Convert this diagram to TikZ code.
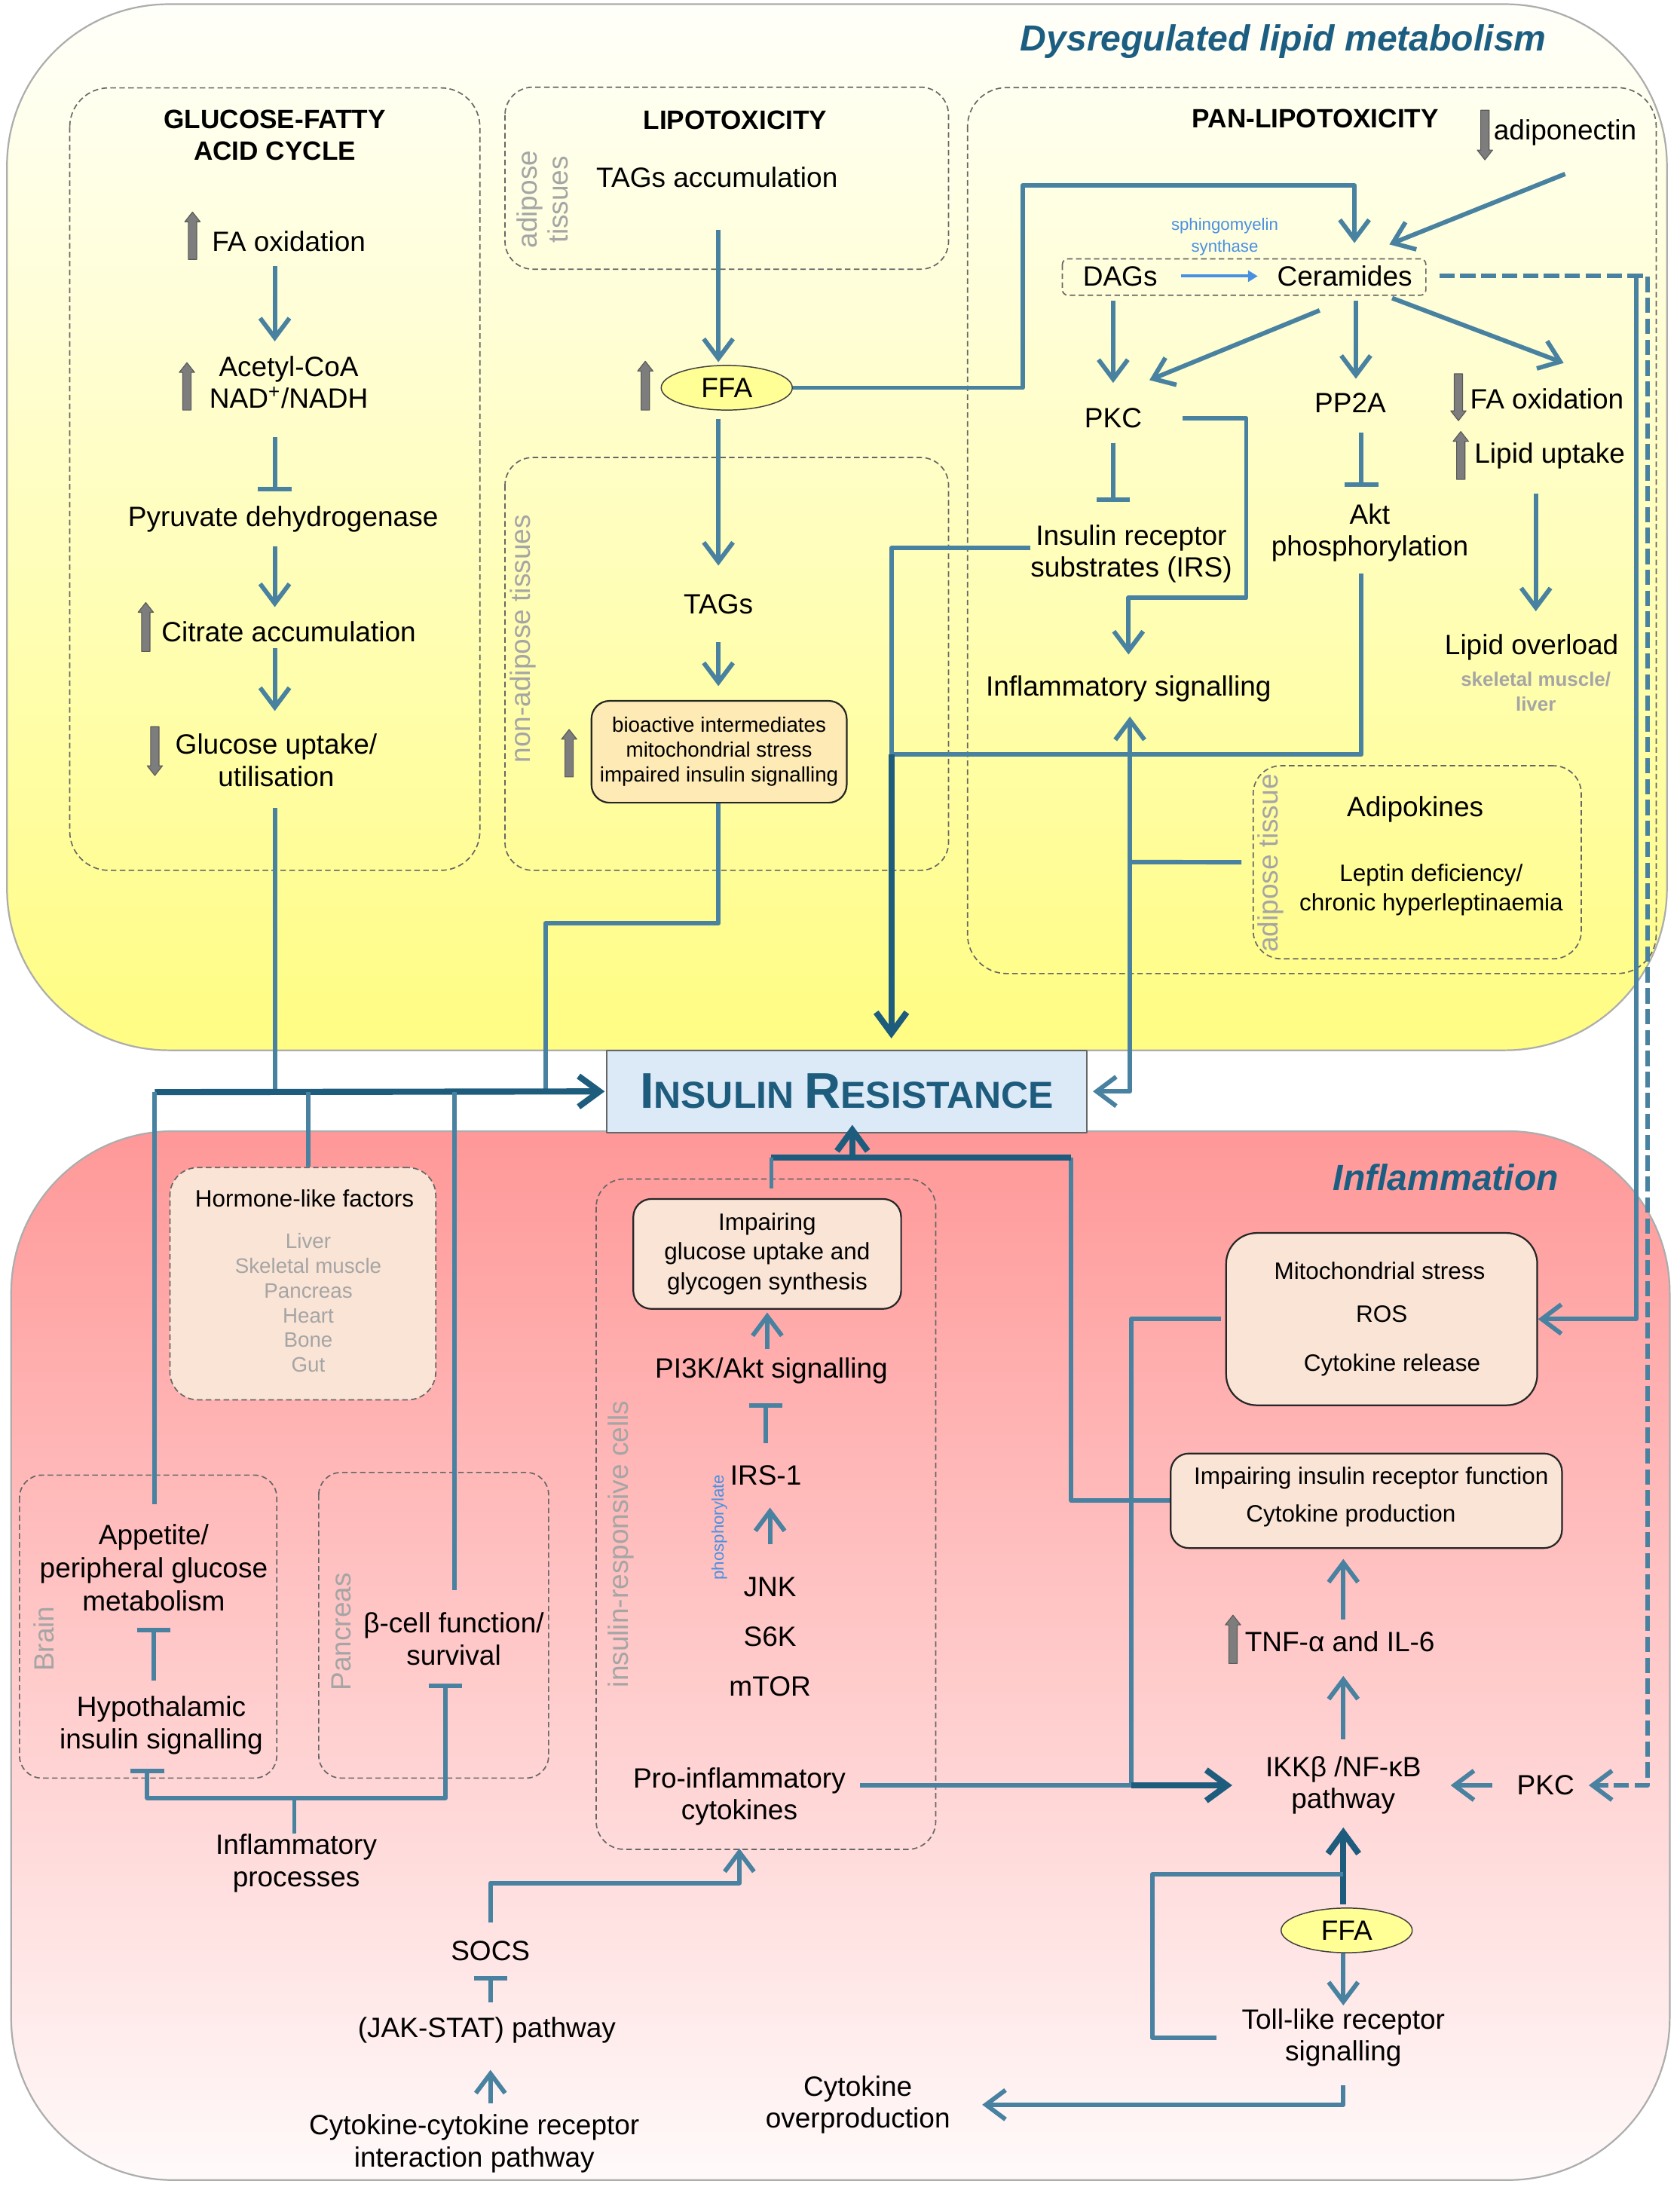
\documentclass[tikz,border=0pt]{standalone}
\usepackage{fontspec}
\setmainfont{Liberation Sans}
\usetikzlibrary{arrows.meta,shapes.geometric,positioning}
\definecolor{conn}{RGB}{72,130,160}
\definecolor{connd}{RGB}{30,92,126}
\definecolor{ttlblue}{RGB}{28,94,130}
\definecolor{peach}{RGB}{250,228,214}
\definecolor{bioact}{RGB}{253,234,180}
\definecolor{ffafill}{RGB}{255,255,150}
\definecolor{irfill}{RGB}{220,233,246}
\definecolor{sphblue}{RGB}{74,144,226}
\definecolor{sidegray}{RGB}{165,165,165}
\definecolor{blockgray}{RGB}{125,125,125}
\definecolor{ytop}{RGB}{255,255,250}
\definecolor{ymid}{RGB}{254,252,218}
\definecolor{ybot}{RGB}{255,253,130}
\definecolor{ptop}{RGB}{255,152,152}
\definecolor{pmid}{RGB}{254,212,212}
\definecolor{pbot}{RGB}{255,250,250}
% grey block arrows: x, y of tip/top, y of bottom
\newcommand{\grayup}[3]{\filldraw[fill=blockgray,draw=black!65,line width=0.3pt] (#1-3,#3) -- (#1-3,#2+7) -- (#1-5.5,#2+7) -- (#1,#2) -- (#1+5.5,#2+7) -- (#1+3,#2+7) -- (#1+3,#3) -- cycle;}
\newcommand{\graydown}[3]{\filldraw[fill=blockgray,draw=black!65,line width=0.3pt] (#1-3,#2) -- (#1-3,#3-7) -- (#1-5.5,#3-7) -- (#1,#3) -- (#1+5.5,#3-7) -- (#1+3,#3-7) -- (#1+3,#2) -- cycle;}
\begin{document}
\begin{tikzpicture}[x=0.5pt,y=-0.5pt,line join=round,
  lbl/.style={font=\fontsize{10}{11.5}\selectfont,align=center,inner sep=0pt},
  ttl/.style={font=\bfseries\fontsize{9.5}{11.5}\selectfont,align=center,inner sep=0pt},
  sml/.style={font=\fontsize{8.5}{10.5}\selectfont,align=center,inner sep=0pt},
  tny/.style={font=\fontsize{7.5}{8.9}\selectfont,align=center,inner sep=0pt},
  sidelbl/.style={font=\fontsize{10}{11}\selectfont,text=sidegray,rotate=90,align=center,inner sep=0pt},
  headline/.style={font=\bfseries\itshape\fontsize{13}{15}\selectfont,text=ttlblue,inner sep=0pt},
  region/.style={draw=black!32,line width=0.6pt,rounded corners=58pt},
  dbox/.style={draw=black!60,dash pattern=on 2pt off 1.2pt,line width=0.45pt,rounded corners=10pt},
  sbox/.style={draw=black!85,line width=0.6pt,rounded corners=6.5pt,fill=peach},
  ffa/.style={ellipse,draw=black!75,line width=0.4pt,fill=ffafill,minimum width=47pt,minimum height=16pt,inner sep=0pt,font=\fontsize{10}{11.5}\selectfont},
  ln/.style={draw=conn,line width=1.6pt},
  arr/.style={ln,shorten <=5pt,shorten >=5pt,-{Straight Barb[length=7pt,width=10.5pt]}},
  inh/.style={ln,shorten <=5pt,shorten >=5pt,-{Bar[width=12pt]}},
  thk/.style={draw=connd,line width=2.2pt},
  dkarr/.style={thk,-{Straight Barb[length=7.5pt,width=11pt]}},
  dsh/.style={ln,dash pattern=on 5.5pt off 2pt,-{Straight Barb[length=7pt,width=10.5pt]}}]
\useasboundingbox (0,0) rectangle (1204,1568);
\fill[white] (0,0) rectangle (1204,1568);

% the two regions
\shade[top color=ytop,middle color=ymid,bottom color=ybot,rounded corners=58pt] (5,3) rectangle (1195,753);
\draw[region] (5,3) rectangle (1195,753);
\shade[top color=ptop,middle color=pmid,bottom color=pbot,rounded corners=58pt] (8,811) rectangle (1197,1563);
\draw[region] (8,811) rectangle (1197,1563);

% dashed frames
\draw[dbox,rounded corners=14pt] (50,63) rectangle (344,624);
\draw[dbox] (362,62.5) rectangle (680,193);
\draw[dbox] (362,328) rectangle (680,624);
\draw[dbox,rounded corners=14pt] (693.6,62.8) rectangle (1187.3,698);
\draw[draw=black!60,dash pattern=on 2pt off 1.2pt,line width=0.45pt,rounded corners=2pt] (761.6,185.6) rectangle (1022.2,211.7);
\draw[dbox] (427.4,845.3) rectangle (670.8,1325.9);
\draw[dbox,rounded corners=8pt] (14,1057.6) rectangle (198.4,1274.8);
\draw[dbox,rounded corners=8pt] (228.5,1055.7) rectangle (393.3,1274.8);

% top part
\node[headline] (dlm) at (920,30) {Dysregulated lipid metabolism};
\node[ttl] (gfa) at (197,97) {GLUCOSE-FATTY\\ACID CYCLE};
\node[lbl] (faox) at (207,173) {FA oxidation};
\node[lbl] (acoa) at (207,274) {Acetyl-CoA\\NAD\textsuperscript{+}/NADH};
\node[lbl] (pdh) at (203,372) {Pyruvate dehydrogenase};
\node[lbl] (citr) at (207,453) {Citrate accumulation};
\node[lbl] (gluc) at (198,545) {Glucose uptake/\\utilisation};

\node[ttl] (lipo) at (527,86) {LIPOTOXICITY};
\node[sidelbl] (adiptis) at (389,143) {adipose\\tissues};
\node[lbl] (tagacc) at (514,127) {TAGs accumulation};
\node[ffa] (ffa1) at (521,278) {FFA};
\node[sidelbl] (nonadip) at (375,458) {non-adipose tissues};
\node[lbl] (tags) at (515,433) {TAGs};
\node[sbox,fill=bioact,tny,minimum width=91.5pt,minimum height=36.5pt] (bio) at (515.5,539) {bioactive intermediates\\mitochondrial stress\\impaired insulin signalling};

\node[ttl] (panlipo) at (943,85) {PAN-LIPOTOXICITY};
\node[lbl] (adipo) at (1122,95) {adiponectin};
\node[font=\fontsize{6}{7.8}\selectfont,text=sphblue,align=center,inner sep=0pt] (sms) at (878,170) {sphingomyelin\\synthase};
\node[lbl] (dags) at (803,198) {DAGs};
\node[lbl] (cer) at (964,198) {Ceramides};
\node[lbl] (pkc) at (798,300) {PKC};
\node[lbl] (pp2a) at (968,289) {PP2A};
\node[lbl] (faox2) at (1109,286) {FA oxidation};
\node[lbl] (lipup) at (1111,327) {Lipid uptake};
\node[lbl] (lipov) at (1098,464) {Lipid overload};
\node[font=\bfseries\fontsize{7}{9}\selectfont,text=sidegray,align=center,inner sep=0pt] (skel) at (1101,496) {skeletal muscle/\\liver};
\node[lbl] (irs) at (811,397) {Insulin receptor\\substrates (IRS)};
\node[lbl] (akt) at (982,382) {Akt\\phosphorylation};
\node[lbl] (infl) at (809,494) {Inflammatory signalling};
\node[dbox,minimum width=117.6pt,minimum height=69.2pt,inner sep=0pt] (adbox) at (1016,618.2) {};
\node[sidelbl] (adtis) at (911,619) {adipose tissue};
\node[lbl] (adipok) at (1014.5,580) {Adipokines};
\node[sml,font=\fontsize{8.5}{10.3}\selectfont] (leptin) at (1026,638) {Leptin deficiency/\\chronic hyperleptinaemia};

\node[draw=black!60,line width=0.5pt,fill=irfill,minimum width=172pt,minimum height=29.5pt,inner sep=0pt,text=connd,font=\bfseries\fontsize{13.5}{15}\selectfont] (ir) at (607,782.5) {{\fontsize{18}{18}\selectfont I}NSULIN {\fontsize{18}{18}\selectfont R}ESISTANCE};

% bottom part
\node[headline] (infltitle) at (1036.5,844) {Inflammation};
\node[sbox,rounded corners=11pt,minimum width=111.5pt,minimum height=61.75pt,inner sep=0pt] (mito) at (990.5,945.75) {};
\node[sml] (mitos) at (989,911) {Mitochondrial stress};
\node[sml] (ros) at (990.5,942) {ROS};
\node[sml] (cytrel) at (998,978.5) {Cytokine release};
\node[sbox,minimum width=140.25pt,minimum height=33.9pt,inner sep=0pt] (iirf) at (979.5,1076) {};
\node[sml] (iirft) at (983,1060) {Impairing insulin receptor function};
\node[sml] (cytprod) at (968.5,1087) {Cytokine production};
\node[lbl] (tnf) at (960.5,1177) {TNF-α and IL-6};
\node[lbl] (ikk) at (963,1280) {IKKβ /NF-κB\\pathway};
\node[lbl] (pkc2) at (1108,1280) {PKC};
\node[ffa] (ffa2) at (965.4,1384) {FFA};
\node[lbl] (toll) at (963,1461) {Toll-like receptor\\signalling};
\node[lbl] (cytover) at (615,1509) {Cytokine\\overproduction};

\node[sbox,sml,minimum width=96pt,minimum height=39.4pt,font=\fontsize{8.5}{10.65}\selectfont] (igu) at (550,899) {Impairing\\glucose uptake and\\glycogen synthesis};
\node[lbl] (pi3k) at (553,983) {PI3K/Akt signalling};
\node[lbl] (irs1) at (549,1058) {IRS-1};
\node[font=\fontsize{6}{7}\selectfont,text=sphblue,rotate=90,inner sep=0pt] (phos) at (515.7,1095) {phosphorylate};
\node[lbl] (jnk) at (552,1138) {JNK};
\node[lbl] (s6k) at (552,1173.5) {S6K};
\node[lbl] (mtor) at (552,1209) {mTOR};
\node[lbl] (proinf) at (530,1288) {Pro-inflammatory\\cytokines};
\node[sidelbl] (irc) at (445.4,1107) {insulin-responsive cells};

\node[dbox,fill=peach,minimum width=95.3pt,minimum height=83.25pt,inner sep=0pt] (hormbox) at (217.1,920.35) {};
\node[sml] (horm) at (218.3,859) {Hormone-like factors};
\node[tny,text=sidegray] (organs) at (221,934) {Liver\\Skeletal muscle\\Pancreas\\Heart\\Bone\\Gut};
\node[sidelbl] (brain) at (31.7,1175) {Brain};
\node[sidelbl] (panc) at (244.6,1170) {Pancreas};
\node[lbl,font=\fontsize{10}{12}\selectfont] (appet) at (110.2,1124) {Appetite/\\peripheral glucose\\metabolism};
\node[lbl] (hypo) at (115.6,1237) {Hypothalamic\\insulin signalling};
\node[lbl] (beta) at (325.3,1175) {β-cell function/\\survival};
\node[lbl] (inflproc) at (212.4,1336) {Inflammatory\\processes};
\node[lbl] (socs) at (351.6,1399) {SOCS};
\node[lbl] (jak) at (349,1455.5) {(JAK-STAT) pathway};
\node[lbl] (ccr) at (340,1537) {Cytokine-cytokine receptor\\interaction pathway};

% up / down markers
\grayup{138}{152}{186}
\grayup{134}{260}{294}
\grayup{104.5}{432}{467}
\graydown{111}{521}{556}
\grayup{462.6}{259}{294}
\grayup{408}{523}{557}
\graydown{1064.5}{79}{114.6}
\graydown{1045.5}{268}{301.6}
\grayup{1047.2}{309.4}{343.7}
\grayup{883.9}{1158}{1192.7}

% glucose-fatty acid cycle
\draw[arr] (faox.south -| gfa) -- (acoa.north -| gfa);
\draw[inh,shorten <=10pt] (acoa.south -| gfa) -- (pdh.north -| gfa);
\draw[arr] (pdh.south -| gfa) -- (citr.north -| gfa);
\draw[arr,shorten <=2pt,shorten >=8pt] (citr.south -| gfa) -- (gluc.north -| gfa);

% lipotoxicity
\draw[arr,shorten <=15pt,shorten >=1pt] (tagacc.south -| tags) -- (ffa1.north -| tags);
\draw[arr,shorten <=3pt,shorten >=10pt] (ffa1.south -| tags) -- (tags.north);
\draw[arr,shorten <=10pt] (tags.south) -- (bio.north -| tags);
\coordinate (lipobend) at (391,662);
\coordinate (irleft) at (111,783);
\draw[ln] (bio.south -| tags) |- (lipobend) -- (lipobend |- irleft);
\draw[ln,shorten <=7.5pt] (gluc.south -| gfa) -- (gfa |- irleft);

% pan-lipotoxicity
\coordinate (ffabend) at (733,133);
\draw[arr,shorten <=0pt,shorten >=8pt] (ffa1.east) -| (ffabend) -| ([xshift=3.5pt]cer.north);
\draw[arr,shorten <=0pt,shorten >=0pt] ([yshift=-10pt]adipo.south) -- ([xshift=16pt,yshift=7.5pt]cer.north);
\draw[sphblue,line width=1.1pt,-{Triangle[length=3.5pt,width=4pt]},shorten <=8.3pt,shorten >=6.8pt] (dags.east) -- (cer.west);
\draw[arr,shorten >=9pt] (dags.south -| pkc) -- (pkc.north);
\draw[arr,shorten <=0pt,shorten >=0pt] ([xshift=-9pt,yshift=-8.4pt]cer.south) -- ([xshift=13pt,yshift=10pt]pkc.north);
\coordinate (cerpp) at ([xshift=4pt]cer.south);
\draw[arr] (cerpp) -- (cerpp |- pp2a.north);
\draw[arr,shorten <=0pt,shorten >=0pt] ([xshift=17pt,yshift=-4pt]cer.south) -- ([xshift=6pt,yshift=9pt]faox2.north);
\draw[inh,shorten >=8pt] (pkc.south) -- (pkc.south |- irs.north);
\coordinate (ppakt) at ([xshift=4pt]pp2a.south);
\draw[inh,shorten <=7pt,shorten >=6pt] (ppakt) -- (ppakt |- akt.north);
\draw[arr,shorten <=8.5pt,shorten >=8pt] (lipup.south -| skel) -- (lipov.north -| skel);
\coordinate (pkcbend) at (893.4,428.5);
\draw[arr,shorten <=14.5pt,shorten >=7.5pt] (pkc.east) -| (pkcbend) -| (infl.north);
\coordinate (irdrop) at (639,541);
\draw[ln] ([yshift=2pt]irs.west) -| (irdrop);
\draw[ln,shorten <=4pt] ([xshift=-3pt]akt.south) |- (irdrop);
\draw[dkarr,shorten >=4pt] (irdrop) -- (irdrop |- ir.north);
\coordinate (adpjoin) at (810,618);
\draw[ln] ([xshift=-4pt]adbox.west) -- (adpjoin);
\draw[arr,shorten <=0pt] (adpjoin) -- (adpjoin |- infl.south);
\draw[arr,shorten <=0pt,shorten >=2pt] (adpjoin) |- (ir.east);
\coordinate (dshbend) at (1181.3,1280);
\coordinate (cerdrop) at (1173,198);
\draw[dsh,shorten <=9.5pt,shorten >=5pt] (cer.east) -| (dshbend) -- (pkc2.east);
\draw[arr,shorten <=0pt,shorten >=0pt] (cerdrop) |- (mito.east);

% into insulin resistance
\draw[dkarr,shorten >=0.5pt] (irleft) -- (ir.west);
\coordinate (hormjoin) at (221,783);
\coordinate (betajoin) at (326,783);
\draw[ln] (hormjoin) -- (hormjoin |- hormbox.north);
\draw[ln,shorten >=7.8pt] (betajoin) -- (betajoin |- beta.north);
\draw[ln,shorten >=7pt] (irleft) -- (irleft |- appet.north);

% brain / pancreas
\draw[inh,shorten <=5.4pt,shorten >=5.6pt] (hypo.north -| appet) -- (appet.south);
\coordinate (ipjoin) at (211,1289);
\draw[ln] (inflproc.north -| ipjoin) -- (ipjoin);
\draw[inh,shorten <=0pt,shorten >=5pt] (ipjoin) -| ([xshift=-5pt]hypo.south);
\draw[inh,shorten <=0pt,shorten >=6.5pt] (ipjoin) -| ([xshift=-3pt]beta.south);

% JAK-STAT
\coordinate (socsbend) at (352,1350);
\draw[arr,shorten <=6.5pt,shorten >=8pt] (socs.north) |- (socsbend) -| (proinf.south);
\draw[inh] (jak.north -| socs) -- (socs.south);
\draw[arr,shorten <=4pt,shorten >=9.4pt] (ccr.north -| socs) -- (jak.south -| socs);

% insulin-responsive cells
\draw[arr,shorten <=3pt,shorten >=1pt] (pi3k.north -| igu) -- (igu.south);
\draw[inh,shorten <=7.8pt,shorten >=6.8pt] (irs1.north) -- (irs1.north |- pi3k.south);
\draw[arr,shorten <=11.7pt,shorten >=7.7pt] (jnk.north) -- (jnk.north |- irs1.south);

% IKK / NF-kB
\coordinate (mitojoin) at (811,1280);
\draw[ln,shorten <=5pt] ([yshift=4pt]proinf.east) -- (mitojoin);
\draw[ln,shorten <=1.5pt] (mito.west) -| (mitojoin);
\draw[dkarr,shorten >=11.75pt] (mitojoin) -- (ikk.west);
\draw[arr,shorten <=4pt,shorten >=3.6pt] (tnf.north -| ikk) -- (iirf.south -| ikk);
\draw[arr,shorten <=5.9pt,shorten >=8.4pt] (ikk.north) -- (tnf.south -| ikk);
\draw[arr,shorten <=8.6pt,shorten >=10.4pt] (pkc2.west) -- (ikk.east);
\draw[dkarr,shorten <=1.2pt,shorten >=4.5pt] (ffa2.north -| ikk) -- (ikk.south);
\draw[arr,shorten <=0pt,shorten >=1pt] (ffa2.south -| ikk) -- (toll.north);
\coordinate (tollbend) at (826,1344);
\draw[ln,shorten <=9pt] (toll.west) -| (tollbend) -- (tollbend -| ikk);
\draw[arr,shorten <=6.4pt,shorten >=11.3pt] (toll.south) |- (cytover.east);

% back up to insulin resistance
\coordinate (irbotR) at (768,830);
\coordinate (irbotL) at (553,830);
\coordinate (irup) at (611,830);
\coordinate (irin) at ([yshift=3pt]ir.south);
\draw[ln] (iirf.west) -| (irbotR);
\draw[thk] (irbotR) -- (irbotL);
\draw[ln,shorten >=3.5pt] (irbotL) -- (irbotL |- igu.north);
\draw[dkarr] (irup) -- (irup |- irin);
\end{tikzpicture}
\end{document}
